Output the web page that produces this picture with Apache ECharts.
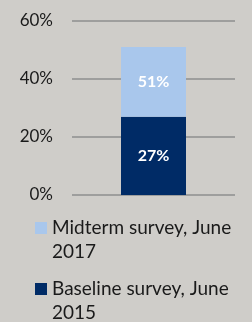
<!DOCTYPE html>
<html>
<head>
<meta charset="utf-8">
<script src="https://cdn.jsdelivr.net/npm/echarts@6/dist/echarts.min.js"></script>
<style>
  html, body { margin: 0; padding: 0; background: #cfcdc9; }
  #chart { width: 252px; height: 322px; }
</style>
</head>
<body>
<div id="chart"></div>
<script>
var categories = ['Survey'];
var baseline = [27];   // Baseline survey, June 2015
var midterm = [51];    // Midterm survey, June 2017
var yTicks = [0, 20, 40, 60];

var baseName = 'Baseline survey, June 2015';
var midName = 'Midterm survey, June 2017';

// the light bar is only visible above the dark one, so stack the difference
var midVisible = midterm.map(function (v, i) { return v - baseline[i]; });

// square on top, empty space below so the icon lines up with the first text line
var legendIcon = 'path://M0,0H12V12H0Z M0,36H0';

var chart = echarts.init(document.getElementById('chart'));
chart.setOption({
  backgroundColor: '#cfcdc9',
  textStyle: { fontFamily: 'Lato' },
  grid: { left: 72, right: 17, top: 21, bottom: 127 },
  xAxis: {
    type: 'category',
    data: categories,
    axisLine: { show: false },
    axisTick: { show: false },
    axisLabel: { show: false }
  },
  yAxis: {
    type: 'value',
    min: yTicks[0],
    max: yTicks[yTicks.length - 1],
    interval: 20,
    axisLine: { show: false },
    axisTick: { show: false },
    axisLabel: { formatter: '{value}%', color: '#1a1a1a', fontSize: 17, margin: 19 },
    splitLine: { lineStyle: { color: '#8e8e8e', width: 1.5 } }
  },
  legend: {
    orient: 'vertical',
    left: 35,
    top: 216,
    height: 140,
    padding: 0,
    itemGap: 13,
    itemWidth: 12,
    itemHeight: 36,
    icon: legendIcon,
    data: [midName, baseName],
    selectedMode: false,
    formatter: function (name) { return name.replace(', June ', ', June\n'); },
    textStyle: { color: '#1a1a1a', fontSize: 19, lineHeight: 24 }
  },
  series: [
    {
      name: baseName,
      type: 'bar',
      stack: 'total',
      barWidth: 65,
      data: baseline,
      itemStyle: { color: '#002b66' },
      label: {
        show: true, position: 'inside', color: '#fff', fontSize: 16, fontWeight: 'bold',
        formatter: function (p) { return baseline[p.dataIndex] + '%'; }
      }
    },
    {
      name: midName,
      type: 'bar',
      stack: 'total',
      barWidth: 65,
      data: midVisible,
      itemStyle: { color: '#a9c7ec' },
      label: {
        show: true, position: 'inside', color: '#fff', fontSize: 16, fontWeight: 'bold',
        formatter: function (p) { return midterm[p.dataIndex] + '%'; }
      }
    }
  ]
});
</script>
</body>
</html>
